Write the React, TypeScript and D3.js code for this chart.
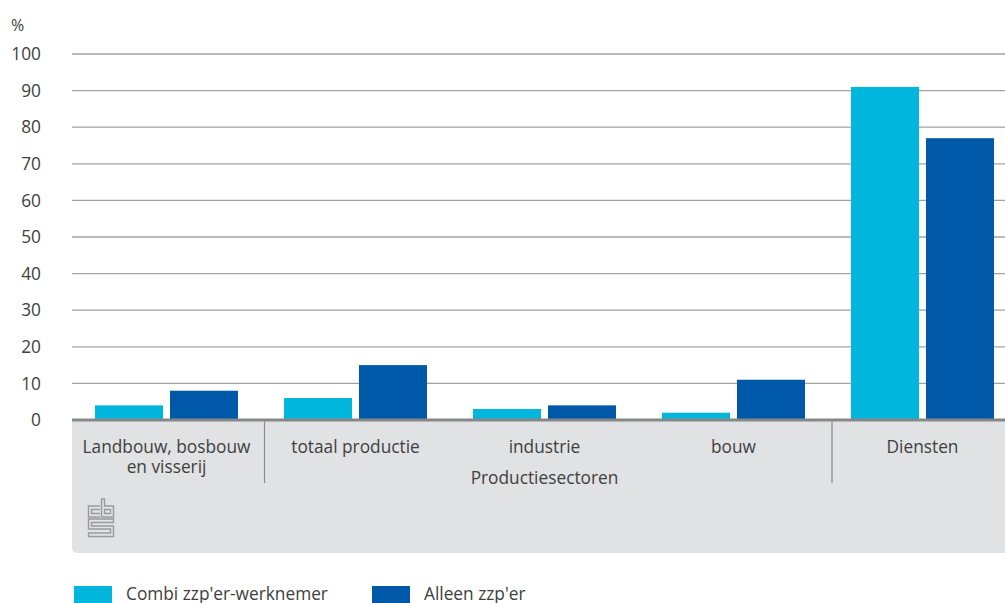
import React from "react";
import * as d3 from "d3";

const categories = ["Landbouw, bosbouw\nen visserij", "totaal productie", "industrie", "bouw", "Diensten"];
const combi = [4, 6, 3, 2, 91];
const alleen = [8, 15, 4, 11, 77];
const yTicks = [0, 10, 20, 30, 40, 50, 60, 70, 80, 90, 100];
const seriesNames = ["Combi zzp'er-werknemer", "Alleen zzp'er"];
const groupLabel = "Productiesectoren";

const W = 1005;
const H = 603;
const FONT = "'Open Sans', sans-serif";
const TEXT = "#404040";
const COLORS = ["#00b6dd", "#0058a8"];
const FS = 17.3;

export default function App() {
  const left = 72;
  const base = 420;
  const x = d3.scaleBand<string>().domain(categories).range([left, left + 945]);
  const y = d3.scaleLinear().domain([0, 100]).range([base, 54]);
  const inner = d3.scaleBand<number>().domain([0, 1]).range([0, x.bandwidth()]).paddingInner(0.093).paddingOuter(0.307);
  const series = [combi, alleen];

  // separators between Landbouw | production sectors | Diensten (sit a little right of the band edge)
  const sepX = [x(categories[1])! + 3.5, x(categories[4])! + 4];
  const prodCenter = x(categories[2])! + x.bandwidth() / 2;

  return (
    <svg width={W} height={H} style={{ position: "absolute", left: 0, top: 0 }} fontFamily={FONT}>
      <rect width={W} height={H} fill="#fff" />
      {/* grey label panel */}
      <path d={`M${left},${base} H${W + 10} V553 H${left + 6} Q${left},553 ${left},547 Z`} fill="#e1e2e4" />
      {yTicks.map((t) => (
        <g key={t}>
          {t > 0 && <line x1={left} x2={W} y1={y(t)} y2={y(t)} stroke="#a2a2a2" strokeWidth={1.3} />}
          <text x={41} y={y(t)} dy="0.36em" textAnchor="end" fontSize={FS} fill={TEXT}>
            {t}
          </text>
        </g>
      ))}
      <text x={11} y={31} fontSize={16} fill={TEXT}>%</text>

      {categories.map((c, i) =>
        series.map((s, k) => (
          <rect
            key={c + k}
            x={x(c)! + inner(k)!}
            y={y(s[i])}
            width={inner.bandwidth()}
            height={base - y(s[i])}
            fill={COLORS[k]}
          />
        ))
      )}
      <line x1={left} x2={W} y1={base} y2={base} stroke="#878787" strokeWidth={3} />

      {sepX.map((sx) => (
        <line key={sx} x1={sx} x2={sx} y1={base} y2={483} stroke="#8a8a8a" strokeWidth={1.2} />
      ))}

      {categories.map((c) => (
        <text key={c} x={x(c)! + x.bandwidth() / 2} y={453} textAnchor="middle" fontSize={FS} fill={TEXT}>
          {c.split("\n").map((ln, j) => (
            <tspan key={j} x={x(c)! + x.bandwidth() / 2} dy={j === 0 ? 0 : 20}>
              {ln}
            </tspan>
          ))}
        </text>
      ))}
      <text x={prodCenter} y={484} textAnchor="middle" fontSize={FS} fill={TEXT}>
        {groupLabel}
      </text>

      {/* cbs logo */}
      <g fill="none" stroke="#9a9a9a" strokeWidth={1.4}>
        <path d="M100,506 H88.5 V517 H100 M100,509.5 H91.5 V513.5 H100" />
        <path d="M101.5,499 V517 H113.5 V506 H104.5 V499 Z M104.5,509.5 H110.5 V513.5 H104.5 Z" />
        <path d="M113.5,519 H88.5 V529 H110.5 V533 H88.5 V536.5 H113.5 V526 H91.5 V522.5 H113.5 Z" />
      </g>

      {/* legend */}
      {seriesNames.map((n, k) => {
        const lx = k === 0 ? 74 : 372;
        return (
          <g key={n}>
            <rect x={lx} y={586} width={38} height={17} fill={COLORS[k]} />
            <text x={lx + 52} y={600} fontSize={FS} fill={TEXT}>
              {n}
            </text>
          </g>
        );
      })}
    </svg>
  );
}
